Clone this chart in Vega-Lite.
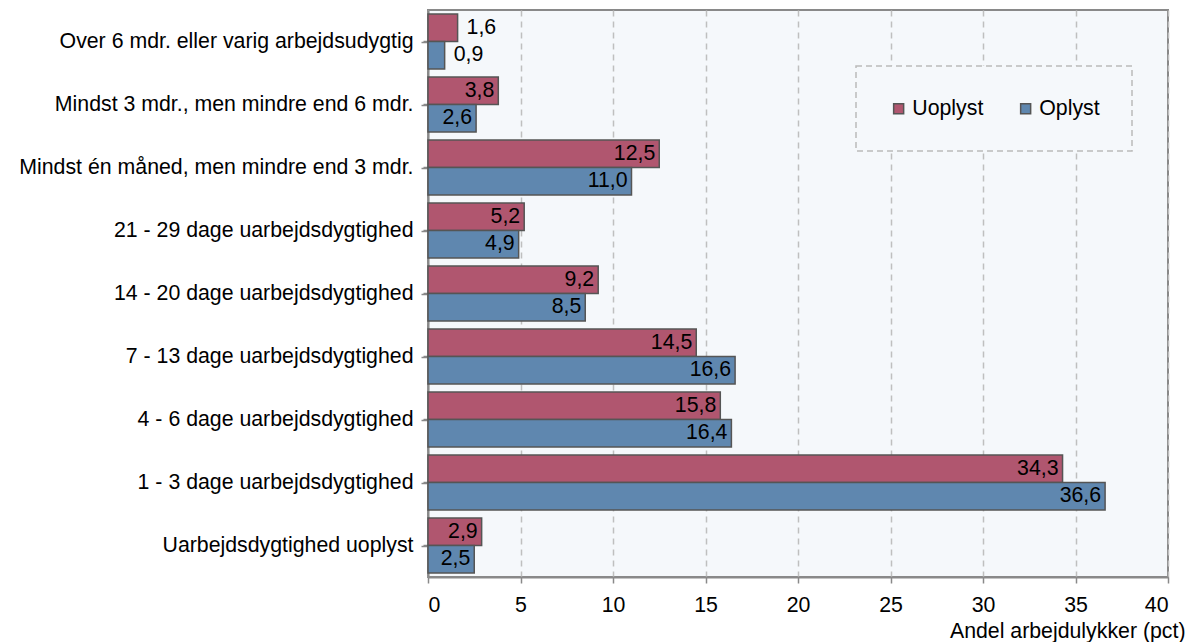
{
  "$schema": "https://vega.github.io/schema/vega-lite/v6.json",
  "autosize": {"type": "none"},
  "padding": {"left": 428, "top": 10, "right": 23, "bottom": 65},
  "width": 740,
  "height": 567,
  "background": "white",
  "config": {
    "font": "Liberation Sans",
    "locale": {"number": {"decimal": ",", "thousands": ".", "grouping": [3], "currency": ["", " kr"]}},
    "view": {"stroke": "#898989", "strokeWidth": 2, "fill": "#F5F8FB"}
  },
  "data": {
    "values": [
      {"kategori": "Over 6 mdr. eller varig arbejdsudygtig", "serie": "Uoplyst", "andel": 1.6},
      {"kategori": "Over 6 mdr. eller varig arbejdsudygtig", "serie": "Oplyst", "andel": 0.9},
      {"kategori": "Mindst 3 mdr., men mindre end 6 mdr.", "serie": "Uoplyst", "andel": 3.8},
      {"kategori": "Mindst 3 mdr., men mindre end 6 mdr.", "serie": "Oplyst", "andel": 2.6},
      {"kategori": "Mindst én måned, men mindre end 3 mdr.", "serie": "Uoplyst", "andel": 12.5},
      {"kategori": "Mindst én måned, men mindre end 3 mdr.", "serie": "Oplyst", "andel": 11.0},
      {"kategori": "21 - 29 dage uarbejdsdygtighed", "serie": "Uoplyst", "andel": 5.2},
      {"kategori": "21 - 29 dage uarbejdsdygtighed", "serie": "Oplyst", "andel": 4.9},
      {"kategori": "14 - 20 dage uarbejdsdygtighed", "serie": "Uoplyst", "andel": 9.2},
      {"kategori": "14 - 20 dage uarbejdsdygtighed", "serie": "Oplyst", "andel": 8.5},
      {"kategori": "7 - 13 dage uarbejdsdygtighed", "serie": "Uoplyst", "andel": 14.5},
      {"kategori": "7 - 13 dage uarbejdsdygtighed", "serie": "Oplyst", "andel": 16.6},
      {"kategori": "4 - 6 dage uarbejdsdygtighed", "serie": "Uoplyst", "andel": 15.8},
      {"kategori": "4 - 6 dage uarbejdsdygtighed", "serie": "Oplyst", "andel": 16.4},
      {"kategori": "1 - 3 dage uarbejdsdygtighed", "serie": "Uoplyst", "andel": 34.3},
      {"kategori": "1 - 3 dage uarbejdsdygtighed", "serie": "Oplyst", "andel": 36.6},
      {"kategori": "Uarbejdsdygtighed uoplyst", "serie": "Uoplyst", "andel": 2.9},
      {"kategori": "Uarbejdsdygtighed uoplyst", "serie": "Oplyst", "andel": 2.5}
    ]
  },
  "layer": [
    {
      "encoding": {
        "y": {
          "field": "kategori",
          "type": "nominal",
          "sort": null,
          "scale": {"paddingInner": 0.127, "paddingOuter": 0.0635},
          "axis": {
            "title": null,
            "labelFontSize": 21.3,
            "labelColor": "#000000",
            "labelPadding": 10,
            "labelLimit": 600,
            "tickSize": 5,
            "tickColor": "#898989",
            "tickWidth": 1.5,
            "domainColor": "#898989",
            "domainWidth": 2,
            "grid": false
          }
        },
        "yOffset": {"field": "serie", "type": "nominal", "sort": ["Uoplyst", "Oplyst"], "scale": {"paddingInner": 0, "paddingOuter": 0}},
        "x": {
          "field": "andel",
          "type": "quantitative",
          "scale": {"domain": [0, 40], "nice": false},
          "axis": {
            "values": [0, 5, 10, 15, 20, 25, 30, 35, 40],
            "format": "d",
            "title": "Andel arbejdulykker (pct)",
            "titleFontSize": 21.3,
            "titleFontWeight": "normal",
            "titleColor": "#000000",
            "titleAnchor": "end",
            "titleAlign": "right",
            "titleBaseline": "alphabetic",
            "titleX": 757,
            "titleY": 60,
            "labelFontSize": 21.3,
            "labelColor": "#000000",
            "labelPadding": 11,
            "tickSize": 6,
            "tickColor": "#898989",
            "tickWidth": 1.5,
            "domainColor": "#898989",
            "domainWidth": 2,
            "grid": true,
            "gridColor": "#BFBFBF",
            "gridWidth": 1.5,
            "gridDash": [6, 5]
          }
        }
      },
      "layer": [
        {
          "mark": {"type": "bar", "stroke": "#555555", "strokeWidth": 1.5},
          "encoding": {
            "color": {
              "field": "serie",
              "type": "nominal",
              "sort": ["Uoplyst", "Oplyst"],
              "scale": {"domain": ["Uoplyst", "Oplyst"], "range": ["#B0566F", "#5F87AF"]},
              "legend": {
                "title": null,
                "orient": "none",
                "legendX": 428,
                "legendY": 56,
                "direction": "horizontal",
                "columns": 2,
                "columnPadding": 31,
                "labelFontSize": 21.3,
                "labelColor": "#000000",
                "labelOffset": 3,
                "symbolType": "square",
                "symbolSize": 100,
                "symbolStrokeColor": "#555555",
                "symbolOpacity": 1,
                "padding": 32,
                "strokeColor": "#BBBBBB",
                "fillColor": "#F5F8FB",
                "encode": {
                  "legend": {"update": {"strokeDash": {"value": [6, 4]}, "strokeWidth": {"value": 1.5}}},
                  "symbols": {"update": {"strokeWidth": {"value": 1.5}}}
                }
              }
            }
          }
        },
        {
          "transform": [{"filter": "datum.andel >= 2"}],
          "mark": {"type": "text", "align": "right", "baseline": "middle", "dx": -4, "fontSize": 21.3, "color": "#000000"},
          "encoding": {"text": {"field": "andel", "type": "quantitative", "format": ".1f"}}
        },
        {
          "transform": [{"filter": "datum.andel < 2"}],
          "mark": {"type": "text", "align": "left", "baseline": "middle", "dx": 9, "fontSize": 21.3, "color": "#000000"},
          "encoding": {"text": {"field": "andel", "type": "quantitative", "format": ".1f"}}
        }
      ]
    },
    {
      "mark": {"type": "point", "opacity": 0},
      "encoding": {
        "y": {
          "field": "kategori",
          "type": "nominal",
          "sort": null,
          "scale": {"paddingInner": 0, "paddingOuter": 0},
          "axis": {
            "title": null,
            "labels": false,
            "domain": false,
            "bandPosition": 0,
            "tickSize": 7,
            "tickColor": "#898989",
            "tickWidth": 1.5,
            "grid": false,
            "orient": "left"
          }
        }
      }
    }
  ],
  "resolve": {"scale": {"y": "independent"}, "axis": {"y": "independent"}}
}
